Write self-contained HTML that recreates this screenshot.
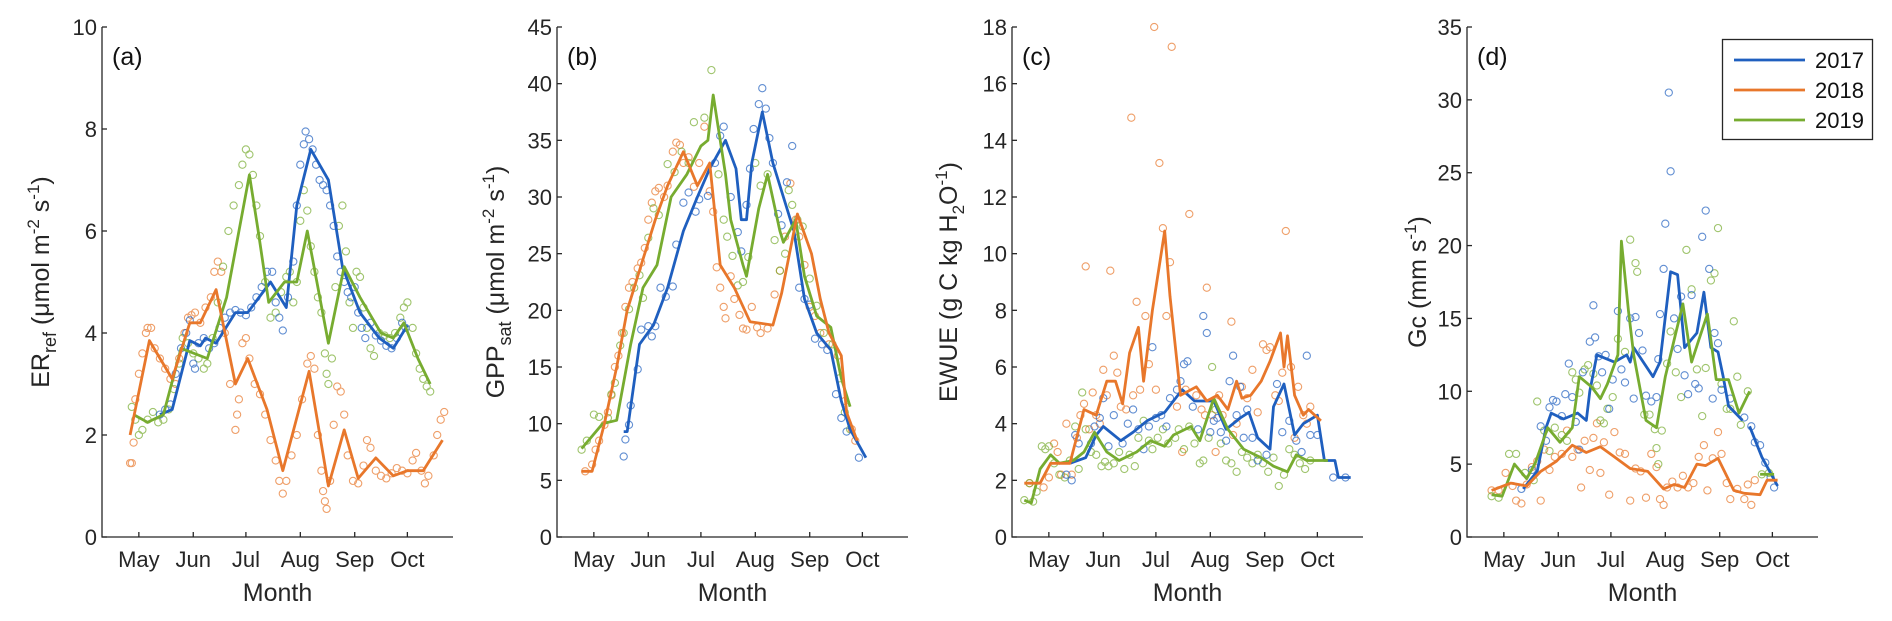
<!DOCTYPE html>
<html><head><meta charset="utf-8"><style>
html,body{margin:0;padding:0;background:#fff;}
svg{display:block;font-family:"Liberation Sans",sans-serif;}
</style></head><body>
<svg id="fig" width="1892" height="621" viewBox="0 0 1892 621" xmlns="http://www.w3.org/2000/svg"></svg>
<script>
// ---------- shared axis data ----------
const monthLabels = ["May","Jun","Jul","Aug","Sep","Oct"];
const monthDays = [121,152,182,213,244,274];
const years = ["2017","2018","2019"];
const colors = {"2017":"#1f5fbf","2018":"#e8772b","2019":"#77ac30"};

// ---------- panel (a) ER_ref ----------
const aTicks = [0,2,4,6,8,10];
const aLine2017 = [[133,2.4],[140,2.5],[150,3.85],[156,3.75],[159,3.9],[165,3.8],[176,4.4],[183,4.4],[196,5.0],[205,4.5],[211,6.5],[219,7.6],[229,7.0],[237,5.3],[247,4.4],[258,3.9],[266,3.7],[274,4.15]];
const aLine2018 = [[116,2.0],[127,3.85],[140,3.1],[150,4.2],[156,4.2],[165,4.85],[176,3.0],[183,3.5],[194,2.5],[203,1.3],[218,3.25],[229,1.0],[238,2.1],[246,1.15],[256,1.55],[266,1.2],[274,1.3],[283,1.3],[294,1.9]];
const aLine2019 = [[118,2.4],[126,2.25],[135,2.4],[145,3.7],[160,3.5],[171,4.7],[184,7.1],[189,6.0],[195,4.6],[204,5.0],[211,5.0],[217,6.0],[229,3.8],[238,5.3],[247,4.7],[259,4.0],[266,3.9],[272,4.2],[280,3.5],[287,3.0]];
const aPts2017 = [[133,2.4],[136,2.5],[139,2.6],[142,3.2],[145,3.7],[148,4.0],[150,4.25],[152,3.4],[153,3.3],[155,3.8],[158,3.9],[161,3.7],[164,3.8],[167,4.1],[170,4.3],[173,4.4],[176,4.45],[179,4.4],[182,4.35],[185,4.5],[188,4.7],[191,4.9],[194,5.2],[197,5.2],[199,4.6],[201,4.3],[203,4.05],[206,4.7],[209,5.4],[211,6.5],[213,7.3],[215,7.7],[216,7.95],[218,7.8],[220,7.6],[222,7.3],[224,7.0],[226,6.9],[228,6.8],[230,6.5],[232,6.1],[234,5.5],[236,5.2],[238,5.0],[240,4.8],[242,4.7],[244,4.9],[246,4.4],[248,4.1],[250,3.9],[253,4.2],[256,3.95],[259,3.85],[262,3.75],[265,3.7],[268,3.9],[271,4.2],[273,4.1]];
const aPts2018 = [[116,1.45],[117,1.45],[118,1.85],[119,2.7],[121,3.2],[123,3.6],[125,4.0],[126,4.1],[128,4.1],[130,3.7],[133,3.5],[136,3.3],[139,3.1],[142,3.0],[144,3.5],[147,4.0],[149,4.3],[151,4.35],[153,4.4],[156,4.2],[159,4.5],[162,4.7],[164,5.2],[166,5.4],[168,5.2],[170,4.0],[173,3.0],[176,2.1],[177,2.4],[178,2.7],[180,3.8],[182,3.9],[184,3.5],[187,3.0],[190,2.8],[193,2.4],[196,1.9],[199,1.5],[201,1.1],[203,0.85],[205,1.1],[208,1.6],[211,2.0],[214,2.7],[217,3.4],[219,3.55],[221,3.3],[223,2.0],[225,1.3],[226,0.9],[227,0.7],[228,0.55],[230,1.1],[232,2.2],[234,2.95],[236,2.85],[238,2.4],[240,1.6],[243,1.1],[246,1.05],[249,1.4],[251,1.9],[253,1.75],[256,1.3],[259,1.2],[262,1.15],[265,1.25],[268,1.35],[271,1.3],[274,1.25],[277,1.5],[279,1.65],[282,1.3],[284,1.05],[286,1.2],[289,1.6],[291,2.0],[293,2.3],[295,2.45]];
const aPts2019 = [[117,2.55],[119,2.3],[121,2.0],[123,2.1],[126,2.3],[129,2.45],[132,2.25],[135,2.3],[138,2.5],[141,2.9],[144,3.4],[146,3.9],[149,3.8],[152,3.6],[155,3.5],[158,3.3],[160,3.4],[163,3.9],[166,4.6],[169,5.3],[172,6.0],[175,6.5],[178,6.9],[180,7.3],[182,7.6],[184,7.5],[186,7.1],[188,6.5],[190,5.9],[193,5.0],[196,4.3],[199,4.4],[202,4.8],[205,5.1],[207,5.2],[209,4.6],[211,5.0],[213,6.2],[215,6.8],[217,6.4],[219,5.7],[221,5.2],[223,4.7],[225,4.4],[227,3.6],[228,3.2],[229,3.0],[231,3.5],[233,4.9],[235,6.1],[237,6.5],[239,5.6],[241,4.6],[243,4.1],[245,5.2],[247,5.1],[249,4.5],[251,4.1],[253,3.7],[255,3.55],[258,4.0],[261,3.95],[264,3.9],[267,4.0],[270,4.3],[272,4.5],[274,4.6],[277,4.1],[279,3.6],[281,3.3],[283,3.1],[285,2.95],[287,2.85]];

// ---------- panel (b) GPP_sat ----------
const bTicks = [0,5,10,15,20,25,30,35,40,45];
const bLine2017 = [[138,9.3],[140,9.3],[147,17],[155,18.7],[163,22],[172,27],[180,30],[187,32.5],[196,35],[202,32.5],[205,28],[208,28],[211,33],[217,37.5],[223,33],[229,30],[235,27],[241,21],[248,18],[256,16.5],[262,12],[267,9.5],[276,7]];
const bLine2018 = [[114,5.8],[120,5.8],[127,10],[134,15],[140,20],[148,24],[156,28],[163,31],[172,34],[180,31],[187,33],[193,24],[201,22],[210,19],[223,18.7],[228,21.5],[237,28.5],[245,25],[250,21],[255,18],[262,16],[265,11],[271,8.5]];
const bLine2019 = [[114,7.8],[126,10],[134,10.3],[142,17],[149,22],[157,24],[165,30],[174,32],[182,34.5],[186,35],[189,39],[191,37],[196,32],[199,28],[206,24],[208,23],[215,29],[220,32],[227,27],[229,26],[236,28],[241,23],[248,19.5],[256,18.5],[262,14],[267,11.5]];
const bPts2017 = [[138,7.1],[139,8.6],[141,9.9],[142,11.6],[146,14.8],[148,18.3],[152,18.6],[154,17.7],[156,18.6],[159,22],[162,21.2],[166,22.1],[168,25.8],[172,29.5],[175,30.4],[179,28.7],[181,29.8],[186,30.1],[190,33],[193,35.4],[195,36.2],[199,30],[203,26.9],[205,25.2],[208,29.3],[210,32.5],[212,36],[215,38.2],[217,39.6],[219,37.8],[221,35.2],[223,33],[226,28.5],[228,27.5],[231,31.3],[234,34.5],[238,22],[241,21],[244,20.5],[247,17.5],[251,17],[254,16.5],[259,12.6],[262,10.5],[265,9.3],[272,7]];
const bPts2018 = [[116,5.8],[120,6.4],[122,7.7],[124,8.5],[127,9.9],[129,11],[131,12.5],[133,15],[135,16],[137,18],[139,20.3],[141,22],[143,22.5],[146,23.7],[148,24.2],[150,25.5],[152,28],[154,29.5],[156,30.5],[158,30.8],[161,30],[163,31],[166,34],[168,34.8],[170,34.6],[172,33],[175,33.5],[178,30.9],[181,33],[184,36.2],[187,30.5],[189,28.7],[191,23.8],[193,22],[195,20.3],[196,19.3],[199,23],[201,21],[204,19.6],[206,18.4],[208,18.3],[211,20.3],[214,18.5],[216,18],[220,18.4],[224,21.4],[227,23.5],[230,26.5],[233,31.2],[236,28],[238,26.5],[241,24],[244,20.3],[247,19.5],[250,18],[255,17],[260,16],[264,12],[268,9.5],[270,8.5]];
const bPts2019 = [[114,7.7],[117,8.5],[121,10.8],[124,10.6],[129,10.5],[131,12.6],[133,13.6],[136,16.9],[138,18],[141,20.1],[144,22],[147,23.1],[149,21.1],[152,26.4],[155,29],[158,28.4],[163,32.9],[167,32.2],[171,34],[175,33],[178,36.6],[184,37],[188,41.2],[192,32],[195,28],[197,26.5],[200,24.8],[203,22.2],[206,22.5],[209,24.7],[213,33],[216,31],[220,32],[224,26.2],[227,23.5],[230,25],[232,30.6],[234,29.3],[237,28],[240,27.4],[244,22.8],[248,20.4],[252,18],[257,17],[261,14],[264,11],[267,9.5]];

// ---------- panel (c) EWUE ----------
const cTicks = [0,2,4,6,8,10,12,14,16,18];
const cLine2017 = [[133,2.6],[142,2.8],[148,3.6],[152,3.9],[162,3.4],[169,3.7],[177,4.1],[187,4.4],[197,5.2],[204,4.8],[215,4.8],[222,3.8],[230,4.2],[235,4.4],[240,3.5],[247,3.1],[249,4.6],[255,5.4],[261,3.6],[266,4.0],[274,4.3],[278,2.7],[284,2.7],[286,2.1],[293,2.1]];
const cLine2018 = [[107,1.9],[116,1.9],[122,2.6],[133,2.6],[141,4.5],[148,4.3],[154,5.5],[159,5.5],[163,4.7],[167,6.5],[172,7.4],[175,5.5],[180,8],[187,10.8],[190,8.5],[196,5],[205,5.3],[211,4.8],[217,5],[223,4.5],[228,5.5],[231,4.9],[236,5],[242,5.5],[247,6.2],[253,7.2],[255,6],[257,7.1],[261,5],[266,4.3],[269,4.5],[276,4.1]];
const cLine2019 = [[107,1.3],[111,1.2],[116,2.4],[122,2.9],[127,2.6],[135,2.7],[141,3.0],[147,3.7],[154,3.0],[161,2.7],[171,3.0],[179,3.4],[187,3.2],[192,3.6],[202,3.9],[207,3.4],[215,4.9],[223,3.8],[232,3.1],[242,2.8],[249,2.5],[257,2.3],[262,2.9],[268,2.7],[280,2.7]];
const cPts2017 = [[131,2.2],[134,2.0],[136,3.6],[138,3.3],[145,3.3],[147,3.9],[150,4.2],[152,4.9],[155,3.2],[158,4.3],[163,3.3],[166,4.0],[169,4.5],[172,3.8],[175,3.1],[178,3.9],[180,6.7],[182,4.2],[185,4.3],[188,3.9],[190,4.9],[194,5.2],[196,5.5],[198,6.1],[200,6.2],[203,4.6],[206,3.8],[209,7.8],[211,7.2],[213,3.7],[215,4.1],[217,4.2],[219,3.7],[222,3.4],[224,5.5],[226,6.4],[228,4.3],[230,5.3],[232,3.5],[234,4.5],[237,3.5],[240,2.7],[245,2.9],[251,5.4],[254,3.7],[258,4.1],[262,3.4],[265,3.0],[268,6.4],[270,3.6],[274,3.6],[283,2.1],[290,2.1]];
const cPts2018 = [[110,1.9],[118,1.75],[121,2.1],[124,3.3],[126,3.0],[128,2.2],[131,4.0],[134,2.2],[137,3.5],[139,4.3],[141,4.7],[142,9.55],[144,3.8],[146,5.1],[148,4.3],[150,4.0],[152,5.9],[154,5.0],[156,9.4],[158,6.4],[160,5.8],[162,4.6],[165,4.5],[168,14.8],[169,5.0],[171,8.3],[173,5.2],[176,7.8],[178,6.1],[181,18],[182,5.2],[184,13.2],[186,10.9],[188,7.8],[190,9.7],[191,17.3],[194,4.6],[197,3.0],[199,5.2],[201,11.4],[205,5.0],[208,4.5],[210,4.3],[211,8.8],[214,4.3],[216,3.0],[218,5.0],[220,4.3],[225,7.6],[226,3.6],[228,4.0],[231,5.3],[234,4.9],[237,5.9],[240,4.4],[243,6.8],[245,6.6],[247,6.7],[250,5.0],[252,4.8],[254,5.8],[256,10.8],[259,6.0],[261,3.5],[263,5.3],[266,4.3],[268,4.0],[270,4.6]];
const cPts2019 = [[107,1.3],[110,1.9],[112,1.25],[114,1.6],[117,3.2],[119,3.1],[121,3.2],[124,2.6],[127,2.2],[130,2.1],[133,2.7],[136,3.9],[138,2.4],[140,5.1],[142,3.8],[145,3.0],[148,2.9],[151,2.5],[153,2.65],[155,2.5],[158,2.6],[161,3.0],[164,2.4],[167,2.9],[170,2.5],[172,3.5],[175,4.1],[178,3.4],[180,3.1],[183,3.5],[186,3.8],[189,3.3],[193,3.5],[195,3.8],[198,3.1],[201,3.9],[204,3.3],[207,2.6],[209,2.7],[212,3.5],[214,6.0],[216,4.5],[219,3.3],[222,2.7],[225,2.6],[228,2.3],[231,3.0],[234,2.8],[237,2.6],[240,2.9],[243,2.6],[246,2.3],[249,2.8],[252,1.8],[255,2.2],[258,3.1],[261,2.9],[264,2.6],[267,2.4],[270,2.7]];

// ---------- panel (d) Gc ----------
const dTicks = [0,5,10,15,20,25,30,35];
const dLine2017a = [[132,3.3],[140,4.5],[145,7.5],[148,8.5],[155,8.1],[163,8.5],[168,8],[170,10],[174,12.5],[184,12],[191,12.5],[193,12],[195,13],[206,11],[210,12],[216,18.2],[220,18],[224,13],[231,14],[235,16.8],[239,13],[243,12.7],[246,11],[249,9],[257,8]];
const dLine2017b = [[261,7.6],[268,5.5],[277,3.5]];
const dLine2018 = [[114,3.2],[125,3.7],[134,3.5],[142,4.5],[151,5.2],[160,6.3],[168,5.8],[176,6.2],[184,5.5],[193,4.7],[203,4.5],[212,3.3],[218,3.6],[224,3.4],[231,5.0],[236,4.9],[243,5.4],[252,3.2],[258,3.0],[267,2.9],[271,3.9],[277,3.9]];
const dLine2019a = [[114,2.9],[120,2.8],[127,5],[134,4],[139,5.1],[146,7.5],[153,6.5],[160,7.5],[164,11],[171,10.3],[176,9.5],[180,10.5],[186,12.5],[188,20.3],[192,15.5],[195,12.5],[202,8],[208,7.5],[213,11],[219,14],[223,16],[228,12],[232,13.5],[237,15.3],[242,10.8],[249,10.8],[255,8.5],[261,10]];
const dLine2019b = [[267,4.3],[275,4.3]];
const dPts2017 = [[131,3.3],[137,4.6],[142,7.6],[145,6.6],[147,8.9],[149,9.4],[151,9.3],[154,8.3],[156,9.8],[158,11.9],[160,9.6],[162,7.9],[164,6.0],[166,11.3],[170,13.4],[172,15.9],[173,13.7],[175,12.4],[177,11.3],[179,12.5],[181,8.8],[183,10.8],[186,15.5],[188,11.5],[190,10.6],[193,15],[195,9.5],[196,15.1],[198,14],[200,12.8],[202,9.7],[205,9.3],[208,9.6],[209,12.2],[210,15.3],[212,18.4],[213,21.5],[215,30.5],[216,25.1],[218,15],[220,12.9],[222,16.5],[224,11.1],[226,9.8],[228,16.6],[230,10.5],[232,10.2],[234,20.6],[236,22.4],[238,18.4],[240,9.5],[241,14],[243,13.3],[245,10.1],[250,9.5],[258,8.2],[262,7.6],[264,6.5],[267,6.3],[270,5.1],[273,4.1],[275,3.4]];
const dPts2018 = [[114,3.2],[118,3.2],[122,4.4],[126,3.5],[128,2.5],[131,2.3],[134,3.6],[137,4.8],[140,5.2],[142,2.5],[144,6.0],[147,4.6],[150,5.5],[154,5.7],[157,7.3],[160,5.5],[163,6.0],[165,3.4],[167,6.6],[170,4.6],[172,6.8],[174,7.8],[176,4.4],[178,6.5],[181,2.9],[184,7.2],[187,5.8],[190,5.7],[193,2.5],[196,4.7],[199,4.5],[202,2.7],[205,5.7],[208,4.8],[210,2.6],[212,2.2],[214,3.4],[217,3.8],[220,3.4],[223,4.2],[226,3.4],[229,3.7],[232,5.5],[235,6.3],[237,3.2],[240,5.4],[243,7.2],[245,5.7],[248,3.7],[250,2.6],[254,3.3],[258,2.6],[260,3.6],[262,2.2],[264,3.9]];
const dPts2019 = [[114,2.8],[118,2.7],[124,5.7],[128,5.7],[133,4.4],[138,3.9],[140,9.3],[144,7.3],[147,5.9],[150,7.5],[154,7.0],[157,6.6],[160,11.3],[162,10.8],[164,9.9],[167,11.5],[169,11.8],[172,11.2],[174,10.4],[176,8.0],[178,7.8],[180,8.8],[183,9.6],[186,13.6],[190,12.7],[193,20.4],[196,18.8],[197,18.2],[201,8.4],[204,8.4],[207,7.4],[208,6.1],[209,5.0],[211,7.3],[214,11.9],[216,14.1],[219,11.3],[222,9.6],[225,19.7],[228,17.0],[231,11.5],[234,8.3],[236,11.6],[239,17.6],[241,18.1],[243,21.2],[245,10.5],[248,8.8],[250,8.8],[252,14.8],[254,11.0],[256,7.7],[260,10.0],[268,4.3],[272,4.4]];

// ---------- drawing ----------
const NS = "http://www.w3.org/2000/svg";
const svg = document.getElementById('fig');
const TOP = 27, BOT = 537, W = 351, XMIN = 100, XMAX = 300;
function mk(tag, attrs, parent){
  const e = document.createElementNS(NS, tag);
  for (const k in attrs) e.setAttribute(k, attrs[k]);
  (parent||svg).appendChild(e);
  return e;
}
const panels = [
  {id:"a", left:102, ymax:10, ticks:aTicks, lines:{"2017":[aLine2017],"2018":[aLine2018],"2019":[aLine2019]}, pts:{"2017":aPts2017,"2018":aPts2018,"2019":aPts2019}, labelX:40},
  {id:"b", left:557, ymax:45, ticks:bTicks, lines:{"2017":[bLine2017],"2018":[bLine2018],"2019":[bLine2019]}, pts:{"2017":bPts2017,"2018":bPts2018,"2019":bPts2019}, labelX:495},
  {id:"c", left:1012, ymax:18, ticks:cTicks, lines:{"2017":[cLine2017],"2018":[cLine2018],"2019":[cLine2019]}, pts:{"2017":cPts2017,"2018":cPts2018,"2019":cPts2019}, labelX:948},
  {id:"d", left:1467, ymax:35, ticks:dTicks, lines:{"2017":[dLine2017a,dLine2017b],"2018":[dLine2018],"2019":[dLine2019a,dLine2019b]}, pts:{"2017":dPts2017,"2018":dPts2018,"2019":dPts2019}, labelX:1418}
];
panels.forEach(p=>{
  const g = mk('g',{});
  
  
  const xs = d => p.left + (d - XMIN) / (XMAX - XMIN) * W;
  const ys = v => BOT - v / p.ymax * (BOT - TOP);
  // scatter
  const order = ["2018","2019","2017"];
  order.forEach(yr=>{
    const sg = mk('g',{fill:'none',stroke:colors[yr],'stroke-width':1.1,opacity:0.7}, g);
    
    
    p.pts[yr].forEach(pt=>{
      const c = mk('circle',{cx:xs(pt[0]).toFixed(1), cy:ys(pt[1]).toFixed(1), r:3.6}, sg);
      
      
    });
  });
  ["2017","2019","2018"].forEach(yr=>{
    p.lines[yr].forEach(seg=>{
      const pl = mk('polyline',{fill:'none',stroke:colors[yr],'stroke-width':2.8,'stroke-linejoin':'round',
        points: seg.map(q=>xs(q[0]).toFixed(1)+','+ys(q[1]).toFixed(1)).join(' ')}, g);
      
      
    });
  });
  // axes
  const ax = mk('path',{d:`M${p.left},${TOP} V${BOT} H${p.left+W}`, fill:'none', stroke:'#262626','stroke-width':1.3}, g);
  
  
  p.ticks.forEach(t=>{
    const y = ys(t);
    mk('line',{x1:p.left,x2:p.left+5,y1:y,y2:y,stroke:'#262626','stroke-width':1.3}, g);
    const tx = mk('text',{x:p.left-5,y:y+8,'text-anchor':'end','font-size':22,fill:'#262626'}, g);
    tx.textContent = t;
    
    
  });
  monthDays.forEach((d,i)=>{
    const x = xs(d);
    mk('line',{x1:x,x2:x,y1:BOT,y2:BOT-5,stroke:'#262626','stroke-width':1.3}, g);
    const tx = mk('text',{x:x,y:567,'text-anchor':'middle','font-size':22,fill:'#262626'}, g);
    tx.textContent = monthLabels[i];
    
    
  });
  const xt = mk('text',{x:p.left+W/2,y:601,'text-anchor':'middle','font-size':25,fill:'#262626'}, g);
  xt.textContent = 'Month';
  
  
  const pl = mk('text',{x:p.left+10,y:65,'font-size':25,fill:'#111'}, g);
  pl.textContent = '(' + p.id + ')';
  
  
});
</script>
<svg style="position:absolute;left:0;top:0" width="1892" height="621">
 <g font-family="Liberation Sans, sans-serif" font-size="25" fill="#262626">
  <text transform="translate(49,282) rotate(-90)" text-anchor="middle">ER<tspan font-size="18" dy="7">ref</tspan><tspan dy="-7"> (μmol m</tspan><tspan font-size="17" dy="-10">-2</tspan><tspan dy="10"> s</tspan><tspan font-size="17" dy="-10">-1</tspan><tspan dy="10">)</tspan></text>
  <text transform="translate(504,282) rotate(-90)" text-anchor="middle">GPP<tspan font-size="18" dy="7">sat</tspan><tspan dy="-7"> (μmol m</tspan><tspan font-size="17" dy="-10">-2</tspan><tspan dy="10"> s</tspan><tspan font-size="17" dy="-10">-1</tspan><tspan dy="10">)</tspan></text>
  <text transform="translate(957,282) rotate(-90)" text-anchor="middle">EWUE (g C kg H<tspan font-size="17" dy="7">2</tspan><tspan dy="-7">O</tspan><tspan font-size="17" dy="-10">-1</tspan><tspan dy="10">)</tspan></text>
  <text transform="translate(1426,282) rotate(-90)" text-anchor="middle">Gc (mm s<tspan font-size="17" dy="-10">-1</tspan><tspan dy="10">)</tspan></text>
 </g>
 <g>
  <rect x="1722.5" y="39.5" width="150" height="100" fill="#fff" stroke="#262626" stroke-width="1.3"/>
  <line x1="1734" x2="1805" y1="60" y2="60" stroke="#1f5fbf" stroke-width="2.8"/>
  <line x1="1734" x2="1805" y1="90" y2="90" stroke="#e8772b" stroke-width="2.8"/>
  <line x1="1734" x2="1805" y1="120" y2="120" stroke="#77ac30" stroke-width="2.8"/>
  <g font-family="Liberation Sans, sans-serif" font-size="22" fill="#111">
   <text x="1815" y="68">2017</text>
   <text x="1815" y="98">2018</text>
   <text x="1815" y="128">2019</text>
  </g>
 </g>
</svg>
</body></html>
